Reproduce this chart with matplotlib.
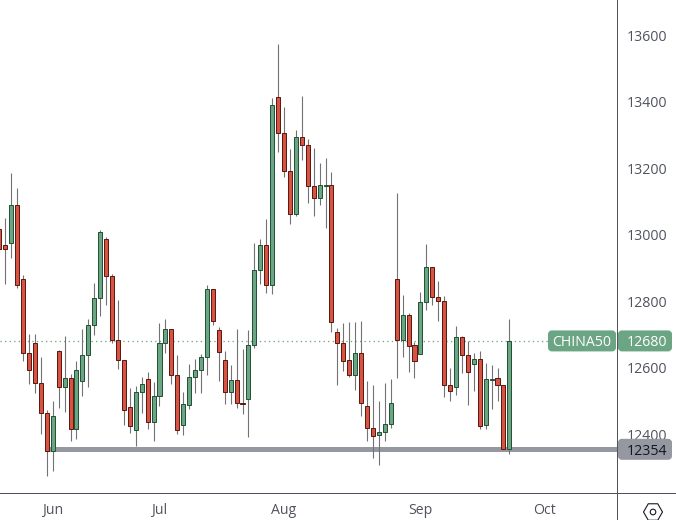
import numpy as np
import matplotlib
matplotlib.use("Agg")
import matplotlib.pyplot as plt
from matplotlib.patches import FancyBboxPatch, RegularPolygon, Circle

plt.rcParams['font.family'] = ['Open Sans', 'DejaVu Sans']

# daily candles
opens = [13016, 12968, 12974, 13088, 12865, 12643, 12673, 12552, 12462, 12348,
         12649, 12540, 12568, 12414, 12558, 12637, 12727, 12808, 12986, 12874,
         12682, 12622, 12480, 12411, 12525, 12565, 12435, 12513, 12673, 12715,
         12577, 12426, 12486, 12571, 12592, 12631, 12835, 12712, 12622, 12525,
         12562, 12492, 12504, 12667, 12892, 12968, 12847, 13413, 13304, 13190,
         13061, 13292, 13268, 13145, 13109, 13146, 13148, 12706, 12673, 12622,
         12577, 12643, 12483, 12417, 12396, 12405, 12429, 12865, 12684, 12757,
         12667, 12642, 12796, 12901, 12813, 12799, 12546, 12540, 12691, 12637,
         12610, 12625, 12426, 12563, 12568, 12546, 12354]
highs = [13029, 13049, 13184, 13139, 12877, 12700, 12700, 12631, 12471, 12498,
         12652, 12694, 12580, 12619, 12715, 12745, 12853, 13013, 12992, 12880,
         12802, 12622, 12537, 12543, 12571, 12586, 12555, 12733, 12745, 12715,
         12637, 12525, 12610, 12625, 12640, 12847, 12835, 12721, 12649, 12607,
         12715, 12655, 12712, 12974, 12986, 13046, 13410, 13572, 13383, 13256,
         13314, 13416, 13286, 13259, 13214, 13229, 13187, 12718, 12733, 12736,
         12736, 12740, 12558, 12546, 12498, 12552, 12565, 13124, 12817, 12763,
         12676, 12826, 12971, 12901, 12859, 12814, 12598, 12724, 12694, 12679,
         12643, 12649, 12613, 12607, 12598, 12546, 12745]
lows = [12938, 12852, 12930, 12840, 12620, 12551, 12524, 12401, 12275, 12290,
        12479, 12467, 12380, 12386, 12515, 12542, 12699, 12756, 12789, 12675,
        12596, 12426, 12404, 12365, 12462, 12416, 12380, 12485, 12643, 12551,
        12401, 12398, 12476, 12524, 12524, 12578, 12729, 12558, 12491, 12491,
        12479, 12461, 12392, 12658, 12852, 12825, 12822, 13249, 13174, 13032,
        13057, 13225, 13096, 13057, 13090, 13020, 12708, 12548, 12590, 12572,
        12533, 12455, 12380, 12329, 12308, 12380, 12418, 12569, 12632, 12587,
        12569, 12642, 12774, 12789, 12741, 12512, 12500, 12518, 12584, 12488,
        12530, 12416, 12416, 12476, 12500, 12354, 12339]
closes = [12956, 12956, 13088, 12847, 12643, 12592, 12552, 12462, 12348, 12453,
          12540, 12568, 12414, 12592, 12637, 12727, 12808, 13007, 12874, 12682,
          12622, 12471, 12423, 12525, 12549, 12435, 12513, 12673, 12715, 12577,
          12411, 12489, 12571, 12592, 12631, 12835, 12739, 12646, 12525, 12562,
          12492, 12489, 12667, 12892, 12968, 12847, 13389, 13304, 13190, 13061,
          13292, 13268, 13145, 13109, 13148, 13148, 12736, 12673, 12620, 12577,
          12643, 12492, 12417, 12395, 12405, 12429, 12492, 12684, 12757, 12666,
          12619, 12796, 12901, 12813, 12799, 12546, 12528, 12691, 12637, 12586,
          12625, 12423, 12565, 12566, 12546, 12354, 12680]

month_labels = ['Jun', 'Jul', 'Aug', 'Sep', 'Oct']
month_pos = [9, 27, 48, 71, 92]
price_ticks = [12400, 12600, 12800, 13000, 13200, 13400, 13600]

last_price = 12680
level_price = 12354
symbol = 'CHINA50'

up_col = '#6BA583'
down_col = '#D75442'
up_edge = '#225437'
down_edge = '#5B1A13'
wick_col = '#737375'
level_col = '#9598A1'
axis_col = '#50535E'
text_col = '#50535E'

W, H = 676, 520
px = 72 / 100  # one pixel in points

fig = plt.figure(figsize=(W / 100, H / 100), dpi=100)
ax = fig.add_axes([0, (H - 493) / H, 617 / W, 493 / H])

o = np.array(opens)
c = np.array(closes)
idx = np.arange(len(o))
is_up = c >= o

# level line under the candles
ax.hlines(level_price, 8, 104.15, color=level_col, lw=5 * px, zorder=1)
# last price dotted line
ax.hlines(last_price, 0.1, 104.15, color=up_col, lw=1.3 * px, linestyles=(0, (1, 2.5)), zorder=1)

ax.vlines(idx, lows, highs, color=wick_col, lw=1.1 * px, zorder=2)
ax.bar(idx[is_up], (c - o)[is_up], bottom=o[is_up], width=0.68, color=up_col,
       edgecolor=up_edge, linewidth=1.0 * px, zorder=3)
ax.bar(idx[~is_up], (c - o)[~is_up], bottom=o[~is_up], width=0.68, color=down_col,
       edgecolor=down_edge, linewidth=1.0 * px, zorder=3)

ymin, ymax = 12222.6, 13705.3
ax.set_xlim(0.106, 104.15)
ax.set_ylim(ymin, ymax)

ax.yaxis.tick_right()
ax.set_yticks(price_ticks)
ax.set_xticks(month_pos)
ax.set_xticklabels(month_labels)
ax.tick_params(axis='both', length=0, labelsize=10.2, labelcolor=text_col)
ax.tick_params(axis='y', pad=7)
ax.tick_params(axis='x', pad=7)
for lab in ax.get_yticklabels():
    lab.set_va('center_baseline')
for s in ['top', 'left', 'right', 'bottom']:
    ax.spines[s].set_visible(False)

# overlay in pixels for the axis lines, price boxes and the icon
ov = fig.add_axes([0, 0, 1, 1], facecolor='none')
ov.set_xlim(0, W)
ov.set_ylim(H, 0)
ov.axis('off')


def price_y(p):
    return (ymax - p) / (ymax - ymin) * 493


ov.plot([617, 617], [0, H], color=axis_col, lw=1 * px)
ov.plot([0, W], [493, 493], color=axis_col, lw=1 * px)


def price_box(x0, x1, y, col, txt, txt_col, tx):
    box = FancyBboxPatch((x0 + 2, y - 8.5), x1 - x0 - 4, 17, boxstyle='round,pad=0,rounding_size=2',
                         mutation_aspect=1, fc=col, ec=col, lw=4 * px)
    ov.add_patch(box)
    ov.text(tx, y, txt, color=txt_col, fontsize=10.2, ha='left', va='center_baseline')


price_box(548, 616, price_y(last_price), up_col, symbol, 'white', 552)
price_box(618, 672, price_y(last_price), up_col, str(last_price), 'white', 627)
price_box(618, 672, price_y(level_price), level_col, str(level_price), '#131722', 627)

# chart settings icon
ov.add_patch(RegularPolygon((653, 512), 6, radius=9.5, orientation=np.pi / 2, fc='white', ec='#131722', lw=1.1 * px))
ov.add_patch(Circle((653, 512), 2.8, fc='white', ec='#131722', lw=1.1 * px))

fig.savefig('out.png', dpi=100)
